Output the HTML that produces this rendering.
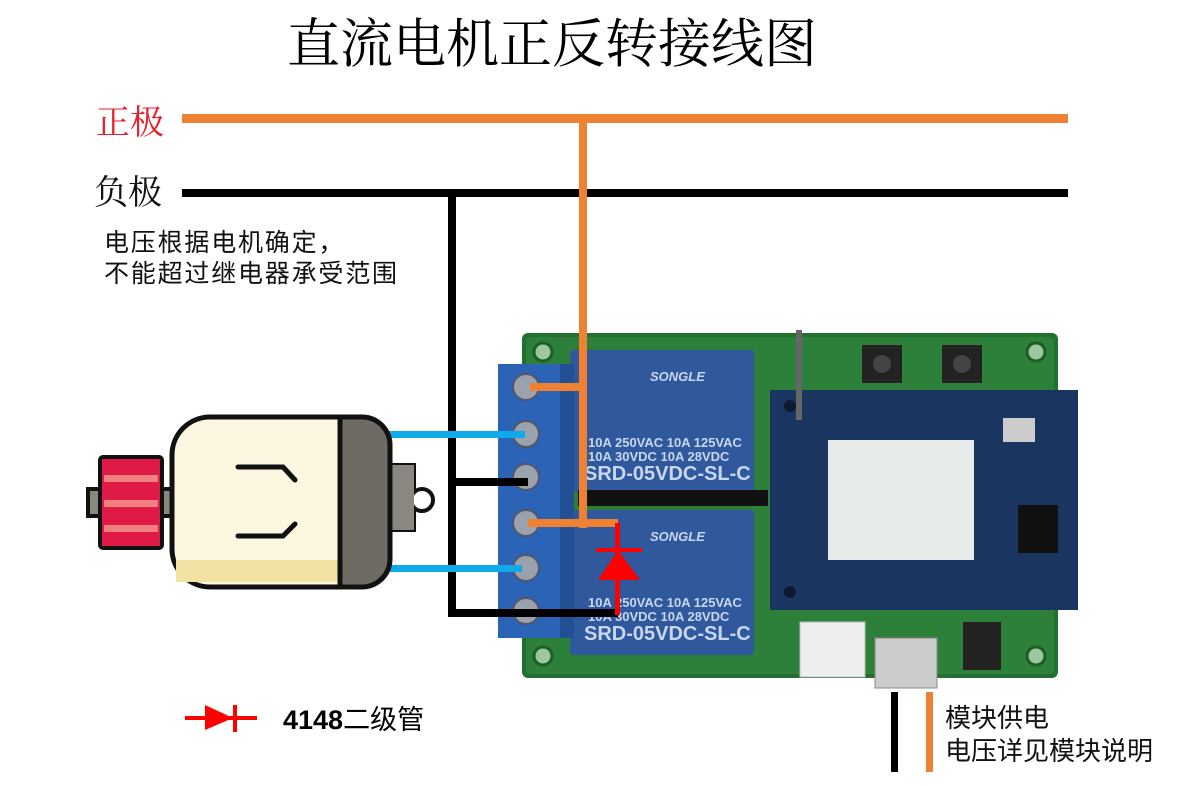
<!DOCTYPE html>
<html><head><meta charset="utf-8"><style>
html,body{margin:0;padding:0;background:#fff;width:1200px;height:786px;overflow:hidden}
svg{display:block}
.s{font-family:"Liberation Serif","Noto Serif CJK SC",serif}
.a{font-family:"Liberation Sans","Noto Sans CJK SC",sans-serif}
</style></head><body>
<svg width="1200" height="786" viewBox="0 0 1200 786" xmlns="http://www.w3.org/2000/svg">
<text x="287" y="62" class="s" font-size="53" fill="#000">直流电机正反转接线图</text>
<text x="96" y="134" class="s" font-size="34" fill="#e8202a">正极</text>
<text x="94" y="204" class="s" font-size="34" fill="#111">负极</text>
<text x="104" y="251" class="a" font-size="25" fill="#111" letter-spacing="1.8">电压根据电机确定，</text>
<text x="104" y="282" class="a" font-size="25" fill="#111" letter-spacing="1.8">不能超过继电器承受范围</text>
<rect x="182" y="114" width="886" height="9" fill="#ee8232"/>
<rect x="182" y="189" width="886" height="8" fill="#000"/>

<!-- board -->
<rect x="522" y="333" width="536" height="345" rx="6" fill="#236f2f"/>
<rect x="526" y="337" width="528" height="337" rx="4" fill="#2c8039"/>
<circle cx="543" cy="352" r="9" fill="#9dc89f" stroke="#1d5e28" stroke-width="3"/>
<circle cx="1036" cy="352" r="9" fill="#9dc89f" stroke="#1d5e28" stroke-width="3"/>
<circle cx="543" cy="656" r="9" fill="#9dc89f" stroke="#1d5e28" stroke-width="3"/>
<circle cx="1036" cy="656" r="9" fill="#9dc89f" stroke="#1d5e28" stroke-width="3"/>
<rect x="862" y="345" width="40" height="38" fill="#222"/><circle cx="882" cy="364" r="9" fill="#444"/>
<rect x="942" y="345" width="40" height="38" fill="#222"/><circle cx="962" cy="364" r="9" fill="#444"/>
<rect x="800" y="622" width="65" height="55" fill="#eee" stroke="#bbb"/>
<rect x="875" y="638" width="62" height="50" fill="#ccc" stroke="#888"/>
<rect x="963" y="622" width="38" height="48" fill="#222"/>
<!-- relays -->
<rect x="570" y="350" width="184" height="142" rx="3" fill="#30589c"/>
<rect x="570" y="510" width="184" height="145" rx="3" fill="#30589c"/>
<g class="a" fill="#c8d6ee" font-weight="bold">
<text x="650" y="381" font-size="13" font-style="italic">SONGLE</text>
<text x="588" y="447" font-size="13">10A 250VAC  10A 125VAC</text>
<text x="588" y="461" font-size="13">10A  30VDC  10A  28VDC</text>
<text x="584" y="480" font-size="20">SRD-05VDC-SL-C</text>
<text x="650" y="541" font-size="13" font-style="italic">SONGLE</text>
<text x="588" y="607" font-size="13">10A 250VAC  10A 125VAC</text>
<text x="588" y="621" font-size="13">10A  30VDC  10A  28VDC</text>
<text x="584" y="640" font-size="20">SRD-05VDC-SL-C</text>
</g>
<rect x="578" y="490" width="190" height="16" fill="#111"/>
<!-- terminal block -->
<rect x="498" y="364" width="76" height="274" fill="#2b64b6"/>
<rect x="560" y="364" width="14" height="274" fill="#234f95"/>
<g fill="#9aa3ad" stroke="#556" stroke-width="2">
<circle cx="526" cy="387" r="13"/><circle cx="526" cy="434" r="13"/><circle cx="526" cy="477" r="13"/>
<circle cx="526" cy="523" r="13"/><circle cx="526" cy="568" r="13"/><circle cx="526" cy="611" r="13"/>
</g>
<!-- module -->
<rect x="770" y="390" width="308" height="220" fill="#1a3560"/>
<g fill="#0c1a30">
<circle cx="790" cy="406" r="6"/><circle cx="790" cy="592" r="6"/>
</g>
<rect x="828" y="440" width="146" height="120" fill="#e6eae8"/>
<rect x="1018" y="505" width="40" height="48" fill="#111"/>
<rect x="1003" y="418" width="32" height="24" fill="#ccc"/>
<rect x="796" y="330" width="6" height="90" fill="#666"/>

<!-- wires -->
<rect x="579" y="118" width="8" height="410" fill="#ee8232"/>
<rect x="530" y="383" width="57" height="8" fill="#ee8232"/>
<rect x="528" y="519" width="90" height="8" fill="#ee8232"/>
<rect x="448" y="193" width="8" height="424" fill="#000"/>
<rect x="448" y="478" width="80" height="8" fill="#000"/>
<rect x="448" y="609" width="170" height="8" fill="#000"/>
<rect x="388" y="431" width="137" height="7" fill="#10aaea"/>
<rect x="388" y="565" width="134" height="7" fill="#10aaea"/>
<!-- diode on board -->
<rect x="615" y="523" width="5" height="92" fill="#f00"/>
<rect x="596" y="548" width="46" height="4" fill="#f00"/>
<polygon points="618,550 598,580 640,580" fill="#f00"/>

<!-- motor -->
<rect x="88" y="489" width="99" height="27" fill="#8a8780" stroke="#111" stroke-width="4"/>
<rect x="100" y="457" width="62" height="91" rx="3" fill="#e01a46" stroke="#111" stroke-width="4"/>
<g fill="#f08080"><rect x="104" y="475" width="54" height="7"/><rect x="104" y="500" width="54" height="7"/><rect x="104" y="525" width="54" height="7"/></g>
<rect x="380" y="465" width="34" height="65" fill="#8a8780" stroke="#111" stroke-width="4"/>
<circle cx="422" cy="500" r="11" fill="#fff" stroke="#111" stroke-width="4"/>
<rect x="380" y="465" width="34" height="65" fill="#8a8780"/>
<path d="M210 417 H340 V587 H210 A38 38 0 0 1 172 549 V455 A38 38 0 0 1 210 417Z" fill="#fdf6e0" stroke="#111" stroke-width="5"/>
<rect x="176" y="560" width="164" height="22" fill="#f2e2a4"/>
<path d="M340 417 H362 A28 28 0 0 1 390 445 V559 A28 28 0 0 1 362 587 H340Z" fill="#6e6b64" stroke="#111" stroke-width="5"/>
<path d="M238 467 H283 L295 480 M238 536 H283 L295 524" fill="none" stroke="#111" stroke-width="5" stroke-linecap="round"/>

<!-- legend -->
<rect x="185" y="716" width="72" height="4" fill="#f00"/>
<polygon points="205,705 233,718 205,730" fill="#f00"/>
<rect x="233" y="705" width="4" height="27" fill="#f00"/>
<text x="283" y="729" class="a" font-size="27" fill="#000"><tspan font-weight="bold">4148</tspan>二级管</text>

<rect x="891" y="692" width="7" height="80" fill="#000"/>
<rect x="926" y="692" width="7" height="80" fill="#ee8232"/>
<text x="945" y="727" class="a" font-size="26" fill="#111">模块供电</text>
<text x="945" y="760" class="a" font-size="26" fill="#111">电压详见模块说明</text>
</svg>
</body></html>
